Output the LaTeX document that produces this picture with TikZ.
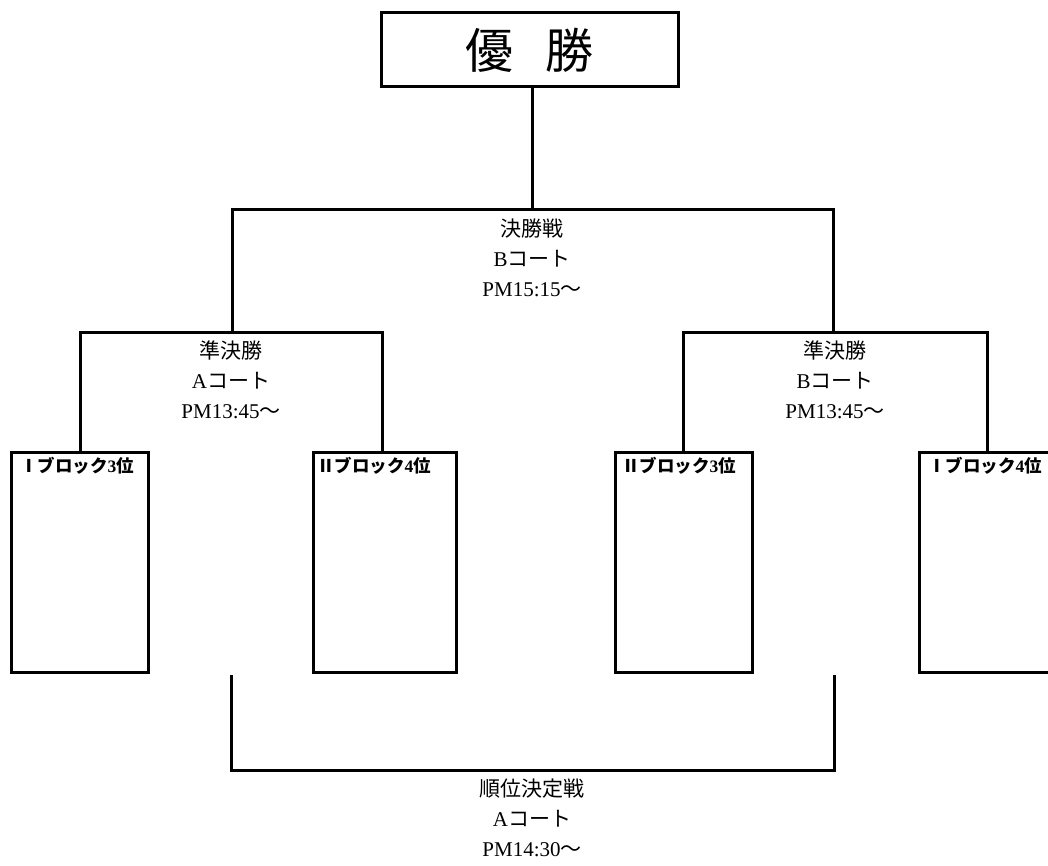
\documentclass[tikz,border=0pt]{standalone}
\usepackage{fontspec}
\setmainfont{Liberation Serif}
\newfontfamily\cjk{Noto Sans CJK JP}
\tikzset{
  blk/.style={draw, rectangle, inner sep=0pt, minimum width=137pt, minimum height=220pt},
  lbl/.style={align=center, inner sep=0pt, font=\fontsize{21}{30}\selectfont},
  boxlbl/.style={anchor=north west, inner sep=0pt, font=\fontsize{17.5}{20}\selectfont\bfseries},
  ttl/.style={draw, inner sep=0pt, minimum width=297pt, minimum height=74pt, font=\fontsize{48}{52}\selectfont}
}
\begin{document}
\begin{tikzpicture}[x=1pt, y=-1pt, line width=3pt]
\useasboundingbox (0,0) rectangle (1048,866);
% title
\node[ttl] (top) at (529.5,50) {\cjk 優\hspace{0.68em}勝};
% junction coordinates
\coordinate (fC) at (532,210);
\coordinate (fL) at (232,210);
\coordinate (fR) at (833,210);
\coordinate (sLc) at (232,332);
\coordinate (sRc) at (833,332);
\coordinate (sl1) at (80,332);
\coordinate (sl2) at (382,332);
\coordinate (sr1) at (683,332);
\coordinate (sr2) at (987,332);
\coordinate (q1t) at (231,675);
\coordinate (q2t) at (834,675);
\coordinate (q1) at (231,770);
\coordinate (q2) at (834,770);
% boxes
\node[blk] (b1) at (79.5,562) {};
\node[blk, minimum width=143pt] (b2) at (384.5,562) {};
\node[blk] (b3) at (683.5,562) {};
\node[blk] (b4) at (987.5,562) {};
\node[boxlbl] (t1) at ([xshift=9pt,yshift=-5pt]b1.north west) {{\cjk Ⅰブロック}3{\cjk 位}};
\node[boxlbl] (t2) at ([xshift=4pt,yshift=-5pt]b2.north west) {{\cjk Ⅱブロック}4{\cjk 位}};
\node[boxlbl] (t3) at ([xshift=7pt,yshift=-5pt]b3.north west) {{\cjk Ⅱブロック}3{\cjk 位}};
\node[boxlbl] (t4) at ([xshift=9pt,yshift=-5pt]b4.north west) {{\cjk Ⅰブロック}4{\cjk 位}};
% connectors
\draw (fC |- top.south) -- (fC);
\draw (sLc) -- (fL) -- (fR) -- (sRc);
\draw (sl1 |- b1.north) -- (sl1) -- (sl2) -- (sl2 |- b2.north);
\draw (sr1 |- b3.north) -- (sr1) -- (sr2) -- (sr2 |- b4.north);
\draw (q1t) -- (q1) -- (q2) -- (q2t);
% labels
\node[lbl] (fin) at (532,258) {{\cjk 決勝戦}\\B{\cjk コート}\\PM15:15{\cjk ～}};
\node[lbl] (semiL) at (231,380) {{\cjk 準決勝}\\A{\cjk コート}\\PM13:45{\cjk ～}};
\node[lbl] (semiR) at (835,380) {{\cjk 準決勝}\\B{\cjk コート}\\PM13:45{\cjk ～}};
\node[lbl] (rank) at (532,818) {{\cjk 順位決定戦}\\A{\cjk コート}\\PM14:30{\cjk ～}};
\end{tikzpicture}
\end{document}
